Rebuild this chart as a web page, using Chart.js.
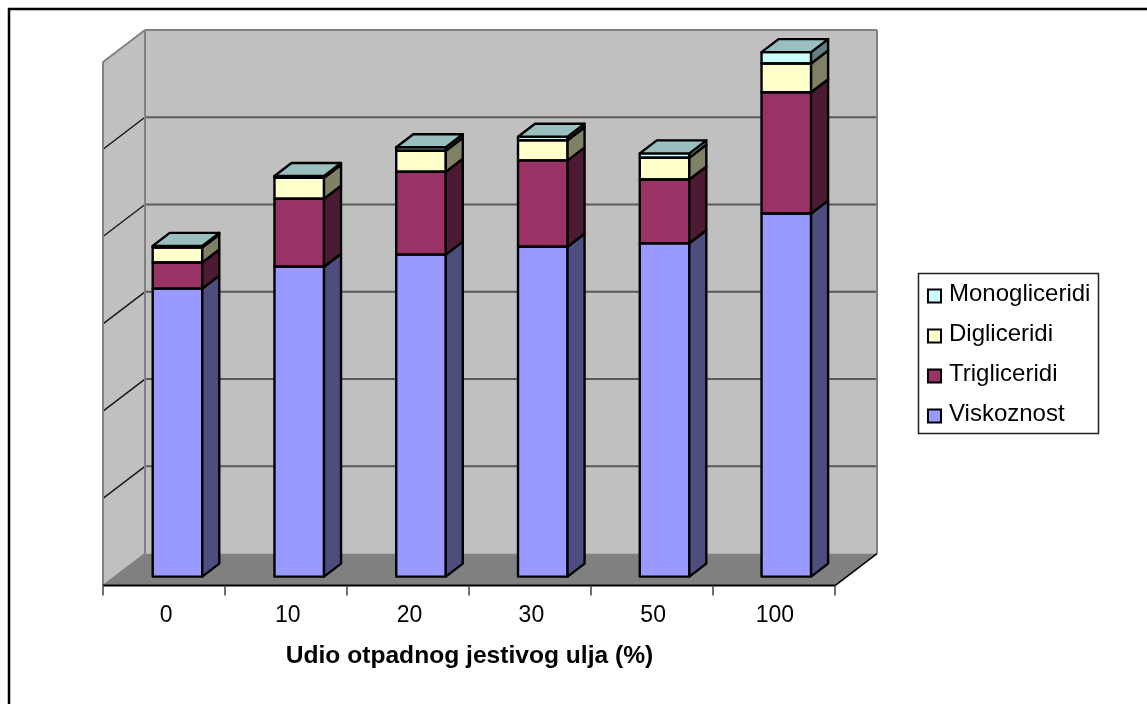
<!DOCTYPE html>
<html>
<head>
<meta charset="utf-8">
<title>Udio otpadnog jestivog ulja</title>
<script src="https://cdn.jsdelivr.net/npm/chart.js@4"></script>
<style>
  html, body { margin: 0; padding: 0; background: #fff; }
  canvas { display: block; }
</style>
</head>
<body>
<canvas id="chart" width="1147" height="704"></canvas>
<script>
const categories = ['0', '10', '20', '30', '50', '100'];
const viskoznost = [3.30, 3.55, 3.69, 3.78, 3.82, 4.16];
const trigliceridi = [0.30, 0.78, 0.95, 0.99, 0.73, 1.39];
const digliceridi = [0.17, 0.24, 0.24, 0.23, 0.25, 0.33];
const monogliceridi = [0.02, 0.02, 0.04, 0.04, 0.05, 0.13];

// Oblique projection of the box: how far its back edge sits from its front edge.
const WALL_DX = 42, WALL_DY = -32;
// Bars occupy the middle slice of the floor depth.
const BAR_DX = 17, BAR_DY = -13;
// Offset from the bars' front plane to the front edge of the floor.
const FRONT_DY = 9;
const OUTLINE = 2.4;

const FONT = '"Liberation Sans", Arial, sans-serif';

function shade(hex, k) {
  const n = parseInt(hex.slice(1), 16);
  const c = [n >> 16, (n >> 8) & 255, n & 255].map(v => Math.round(v * k));
  return `rgb(${c[0]},${c[1]},${c[2]})`;
}

function poly(ctx, pts, fill, stroke, lw) {
  ctx.beginPath();
  pts.forEach((p, i) => i ? ctx.lineTo(p[0], p[1]) : ctx.moveTo(p[0], p[1]));
  ctx.closePath();
  if (fill) { ctx.fillStyle = fill; ctx.fill(); }
  if (stroke) { ctx.strokeStyle = stroke; ctx.lineWidth = lw; ctx.stroke(); }
}

function line(ctx, x1, y1, x2, y2, color, lw) {
  ctx.beginPath();
  ctx.moveTo(x1, y1);
  ctx.lineTo(x2, y2);
  ctx.strokeStyle = color;
  ctx.lineWidth = lw;
  ctx.stroke();
}

// Legend swatch: a bordered square sitting slightly right of and below the point centre.
function swatch(color) {
  const c = document.createElement('canvas');
  c.width = c.height = 30;
  const g = c.getContext('2d');
  g.fillStyle = color;
  g.fillRect(11, 10.5, 13, 13);
  g.strokeStyle = '#000';
  g.lineWidth = 2;
  g.strokeRect(11, 10.5, 13, 13);
  return c;
}

// Page frame, room walls, floor, gridlines and axis ticks.
const roomPlugin = {
  id: 'room',
  beforeDatasetsDraw(chart) {
    const { ctx, scales } = chart;
    const y = scales.y;
    const left = 103, right = 835;
    const base = y.getPixelForValue(0) + FRONT_DY;
    const top = y.getPixelForValue(y.max) + FRONT_DY;

    ctx.save();
    line(ctx, 8, 9, chart.width, 9, '#000', 2.5);
    line(ctx, 9, 8, 9, chart.height, '#000', 2.5);

    ctx.strokeStyle = '#222';
    ctx.lineWidth = 1.5;
    ctx.strokeRect(918.5, 273.5, 180, 160);

    const bl = left + WALL_DX, br = right + WALL_DX;
    const bBase = base + WALL_DY, bTop = top + WALL_DY;

    poly(ctx, [[bl, bTop], [br, bTop], [br, bBase], [bl, bBase]], '#c0c0c0');
    poly(ctx, [[left, top], [bl, bTop], [bl, bBase], [left, base]], '#c0c0c0');
    poly(ctx, [[left, base], [bl, bBase], [br, bBase], [right, base]], '#808080');

    y.ticks.forEach(t => {
      if (t.value === y.min || t.value === y.max) return;
      const py = y.getPixelForValue(t.value) + FRONT_DY;
      line(ctx, left, py, bl, py + WALL_DY, '#1a1a1a', 1.5);
      line(ctx, bl, py + WALL_DY, br, py + WALL_DY, '#5a5a5a', 2);
    });

    line(ctx, left, top, bl, bTop, '#808080', 2);
    line(ctx, bl, bTop, br, bTop, '#808080', 2);
    line(ctx, br, bTop, br, bBase, '#808080', 2);
    line(ctx, bl, bTop, bl, bBase, '#808080', 2);
    line(ctx, left, top, left, base, '#808080', 2);
    line(ctx, left, base, bl, bBase, '#808080', 1.5);
    line(ctx, right, base, br, bBase, '#000', 1.5);
    line(ctx, left, base, right, base, '#000', 2);

    const n = categories.length;
    for (let i = 0; i <= n; i++) {
      const tx = left + (right - left) * i / n;
      line(ctx, tx, base, tx, base + 10, '#404040', 1.5);
    }
    ctx.restore();
  },
  // Side and top faces plus outlines of every stacked segment, taken from the drawn bar elements.
  afterDatasetsDraw(chart) {
    const { ctx } = chart;
    ctx.save();
    ctx.lineJoin = 'round';
    chart.data.datasets.forEach((ds, di) => {
      chart.getDatasetMeta(di).data.forEach((bar) => {
        const p = bar.getProps(['x', 'y', 'base', 'width'], true);
        const xr = p.x + p.width / 2;
        const xl = p.x - p.width / 2;
        const yt = p.y;
        const yb = p.base;
        poly(ctx, [[xl, yt], [xr, yt], [xr, yb], [xl, yb]], null, '#000', OUTLINE);
        poly(ctx, [[xr, yt], [xr + BAR_DX, yt + BAR_DY], [xr + BAR_DX, yb + BAR_DY], [xr, yb]],
          shade(ds.backgroundColor, 0.5), '#000', OUTLINE);
        if (di === chart.data.datasets.length - 1) {
          poly(ctx, [[xl, yt], [xl + BAR_DX, yt + BAR_DY], [xr + BAR_DX, yt + BAR_DY], [xr, yt]],
            shade(ds.backgroundColor, 0.75), '#000', OUTLINE);
        }
      });
    });
    ctx.restore();
  }
};

// Places the legend and axis title relative to the floor rather than the bars' plane.
const placementPlugin = {
  id: 'placement',
  afterLayout(chart) {
    const lg = chart.legend;
    lg.left = 911; lg.right = 1140; lg.width = 229;
    lg.top = 266; lg.bottom = 690; lg.height = 424;
    const t = chart.titleBlock;
    t.left = 169.5; t.right = 769.5; t.width = 600;
  }
};

const series = [
  ['Viskoznost', viskoznost, '#9999ff'],
  ['Trigliceridi', trigliceridi, '#993366'],
  ['Digliceridi', digliceridi, '#ffffcc'],
  ['Monogliceridi', monogliceridi, '#ccffff']
];

new Chart(document.getElementById('chart'), {
  type: 'bar',
  plugins: [roomPlugin, placementPlugin],
  data: {
    labels: categories,
    datasets: series.map(([label, data, color]) => ({
      label, data,
      backgroundColor: color,
      borderWidth: 0,
      categoryPercentage: 1,
      barPercentage: 0.407
    }))
  },
  options: {
    responsive: false,
    animation: false,
    layout: { padding: { left: 116.6, right: 110.4, top: 53, bottom: 32.6 } },
    scales: {
      x: {
        stacked: true,
        grid: { display: false },
        border: { display: false },
        ticks: {
          color: '#000',
          padding: 17.5,
          labelOffset: -11.4,
          maxRotation: 0,
          font: { family: FONT, size: 23 }
        },
        afterFit(s) { s.height = 65.3; }
      },
      y: {
        stacked: true,
        display: false,
        min: 0,
        max: 6,
        ticks: { stepSize: 1 }
      }
    },
    plugins: {
      tooltip: { enabled: false },
      title: {
        display: true,
        position: 'bottom',
        text: 'Udio otpadnog jestivog ulja (%)',
        color: '#000',
        padding: 0,
        font: { family: FONT, size: 24.6, weight: 'bold' }
      },
      legend: {
        position: 'right',
        align: 'start',
        labels: {
          color: '#000',
          usePointStyle: true,
          boxWidth: 10,
          boxHeight: 13,
          padding: 16,
          font: { family: FONT, size: 24 },
          generateLabels(chart) {
            return Chart.defaults.plugins.legend.labels.generateLabels(chart)
              .map(item => ({ ...item, pointStyle: swatch(series[item.datasetIndex][2]) }))
              .reverse();
          }
        }
      }
    }
  }
});
</script>
</body>
</html>
